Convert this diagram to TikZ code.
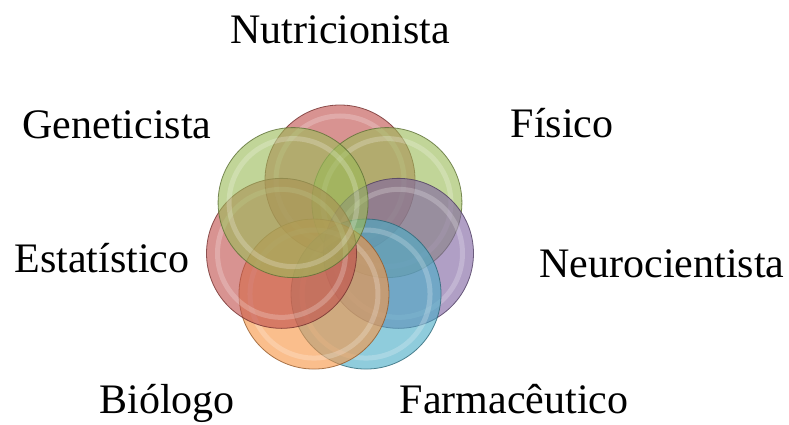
\documentclass[tikz,border=0pt]{standalone}
\usepackage{fontspec}
\setmainfont{Liberation Serif}
\definecolor{accRed}{RGB}{192,80,77}
\definecolor{accOlive}{RGB}{155,187,89}
\definecolor{accPurple}{RGB}{128,100,162}
\definecolor{accAqua}{RGB}{75,172,198}
\definecolor{accOrange}{RGB}{247,150,70}

\begin{document}
\begin{tikzpicture}[x=1pt, y=-1pt]
\tikzset{
  bubble/.style={circle, minimum size=150pt, inner sep=0pt, fill=#1,
    fill opacity=0.62, draw=#1!60!black, draw opacity=0.8, line width=0.8pt},
  shine/.style={white, opacity=0.22, line width=5pt},
  lbl/.style={font=\fontsize{42}{50}\selectfont, inner sep=0pt, anchor=base}
}
\useasboundingbox (0,0) rectangle (789,425);
% circles, clockwise from the top
\foreach \ang/\col/\nm in {90/accRed/nutC, 38.57/accOlive/fisC,
    -12.86/accPurple/neuC, -64.29/accAqua/farC, -115.71/accOrange/bioC,
    -167.14/accRed/estC, 141.43/accOlive/genC}
{
  \node[bubble=\col] (\nm) at ({340+60*cos(\ang)}, {240-60*sin(\ang)}) {};
  \draw[shine] (\nm.center) circle[radius=64];
}
% labels
\node[lbl] (nutL) at (340,44) {Nutricionista};
\node[lbl] (fisL) at (562,137) {Físico};
\node[lbl] (neuL) at (662,277) {Neurocientista};
\node[lbl] (farL) at (514,413) {Farmacêutico};
\node[lbl] (bioL) at (167,413) {Biólogo};
\node[lbl] (estL) at (102,272) {Estatístico};
\node[lbl] (genL) at (117,139) {Geneticista};
\end{tikzpicture}
\end{document}
